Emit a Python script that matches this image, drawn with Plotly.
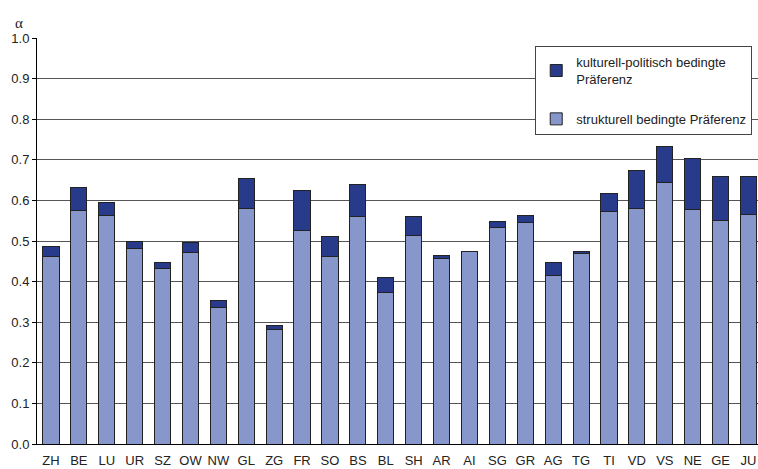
import plotly.graph_objects as go

# Cantons and the two preference components (alpha)
cantons = ["ZH", "BE", "LU", "UR", "SZ", "OW", "NW", "GL", "ZG", "FR", "SO", "BS", "BL",
           "SH", "AR", "AI", "SG", "GR", "AG", "TG", "TI", "VD", "VS", "NE", "GE", "JU"]
strukturell = [0.461, 0.576, 0.563, 0.482, 0.433, 0.472, 0.337, 0.579, 0.281, 0.525,
               0.462, 0.561, 0.374, 0.513, 0.457, 0.475, 0.534, 0.546, 0.415, 0.469,
               0.572, 0.580, 0.645, 0.578, 0.551, 0.566]
kulturell = [0.025, 0.055, 0.033, 0.017, 0.015, 0.025, 0.016, 0.074, 0.012, 0.099,
             0.049, 0.079, 0.037, 0.048, 0.007, 0.000, 0.015, 0.018, 0.033, 0.004,
             0.044, 0.093, 0.089, 0.126, 0.108, 0.093]
y_ticks = [0.0, 0.1, 0.2, 0.3, 0.4, 0.5, 0.6, 0.7, 0.8, 0.9, 1.0]

FONT = "Liberation Sans, Arial, sans-serif"
LIGHT = "#8796cb"
DARK = "#273b8a"
EDGE = "#222222"

# plot area in pixels
PLOT_L, PLOT_T, PLOT_B, PLOT_W, PLOT_H = 37, 38, 444, 721, 406

fig = go.Figure()
fig.add_trace(go.Bar(
    x=cantons, y=strukturell, name="strukturell bedingte Präferenz",
    marker=dict(color=LIGHT, line=dict(color=EDGE, width=1)),
    width=0.58, legendgroup="a", legendrank=2,
))
fig.add_trace(go.Bar(
    x=cantons, y=kulturell, name="kulturell-politisch bedingte<br>Präferenz",
    marker=dict(color=DARK, line=dict(color=EDGE, width=1)),
    width=0.58, legendgroup="b", legendrank=1,
))

fig.update_layout(
    width=758, height=469,
    margin=dict(l=PLOT_L, r=0, t=PLOT_T, b=469 - PLOT_B),
    barmode="stack",
    plot_bgcolor="white", paper_bgcolor="white",
    font=dict(family=FONT, size=13, color="#222"),
    showlegend=True,
    legend=dict(
        x=0.992, y=0.980, xanchor="right", yanchor="top",
        traceorder="grouped", tracegroupgap=20,
        bgcolor="white", bordercolor="#444", borderwidth=1,
        font=dict(family=FONT, size=13, color="#222"),
        itemwidth=30,
    ),
    xaxis=dict(
        range=[-0.5, 25.34], showgrid=False, showline=True, linecolor="black",
        linewidth=1, ticks="outside", ticklen=4, tickcolor="rgba(0,0,0,0)",
        tickfont=dict(size=13, color="#222"), fixedrange=True, automargin=False,
    ),
    yaxis=dict(
        range=[0, 1.0], tickvals=y_ticks, ticktext=[f"{v:.1f}" for v in y_ticks],
        showgrid=True, gridcolor="#555555", gridwidth=1,
        showline=True, linecolor="black", linewidth=1,
        ticks="outside", ticklen=4, tickcolor="black", automargin=False,
        tickfont=dict(size=13, color="#222"), zeroline=False,
    ),
    annotations=[dict(
        text="α", x=(14 - PLOT_L) / PLOT_W, y=(PLOT_B - 14) / PLOT_H,
        xref="paper", yref="paper", showarrow=False, borderpad=0,
        font=dict(family="Liberation Serif, serif", size=15, color="#222"),
    )],
)

fig.write_html("out.html")
